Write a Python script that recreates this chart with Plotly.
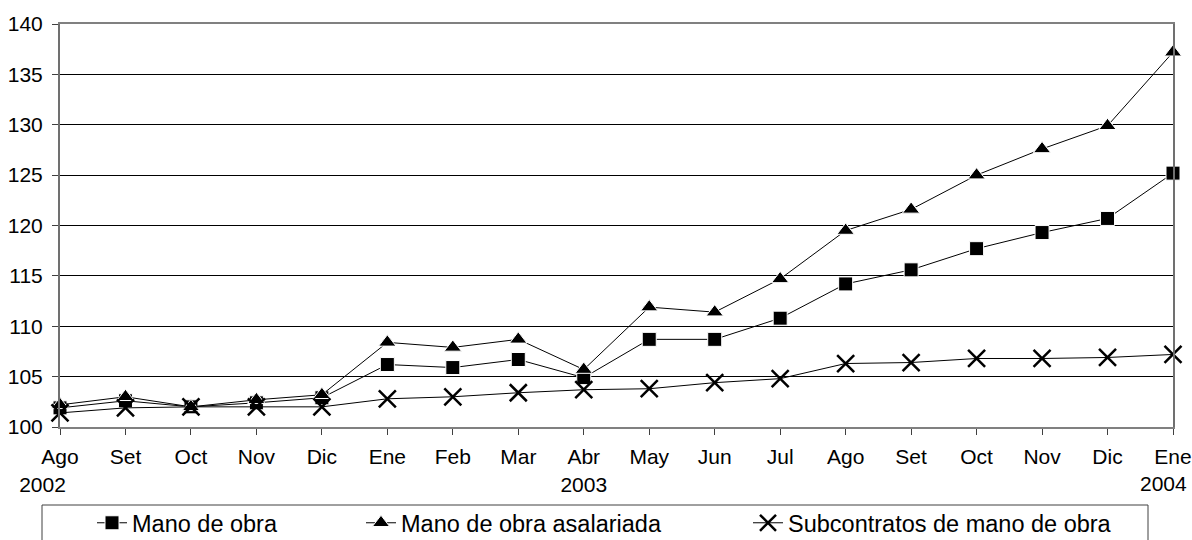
import plotly.graph_objects as go

NB = "\u00a0"
months = ["Ago<br>2002" + NB * 6, "Set", "Oct", "Nov", "Dic", "Ene", "Feb", "Mar", "Abr<br>2003",
          "May", "Jun", "Jul", "Ago", "Set", "Oct", "Nov", "Dic", "Ene"]
last_year = "2004"
mano_obra = [101.9, 102.6, 102.0, 102.4, 102.9, 106.2, 105.9, 106.7, 104.9,
             108.7, 108.7, 110.8, 114.2, 115.6, 117.7, 119.3, 120.7, 125.2]
asalariada = [102.2, 103.0, 102.0, 102.7, 103.2, 108.4, 107.9, 108.7, 105.7,
              111.9, 111.4, 114.7, 119.5, 121.6, 125.0, 127.6, 129.9, 137.2]
subcontratos = [101.4, 101.9, 102.0, 102.0, 102.0, 102.8, 103.0, 103.4, 103.7,
                103.8, 104.4, 104.8, 106.3, 106.4, 106.8, 106.8, 106.9, 107.2]
y_ticks = [100, 105, 110, 115, 120, 125, 130, 135, 140]

x = list(range(len(months)))
FONT = "Liberation Sans, Arial, sans-serif"

fig = go.Figure()
fig.add_trace(go.Scatter(
    x=x, y=mano_obra, name="Mano de obra", mode="lines+markers",
    line=dict(color="black", width=1),
    marker=dict(symbol="square", size=14, color="black", line=dict(color="white", width=1)),
    cliponaxis=False, legend="legend"))
fig.add_trace(go.Scatter(
    x=x, y=asalariada, name="Mano de obra asalariada", mode="lines+markers",
    line=dict(color="black", width=1),
    marker=dict(symbol="triangle-up", size=15, color="black", line=dict(color="white", width=1)),
    cliponaxis=False, legend="legend2"))
fig.add_trace(go.Scatter(
    x=x, y=subcontratos, name="Subcontratos de mano de obra", mode="lines+markers",
    line=dict(color="black", width=1),
    marker=dict(symbol="x-thin", size=17, color="black", line=dict(color="black", width=2.5)),
    cliponaxis=False, legend="legend3"))

W, H = 1192, 540
L, R, T, B = 60, 19, 24, 113
pw, ph = W - L - R, H - T - B

def px_x(p):
    return (p - L) / pw

def px_y(p):
    return (H - B - p) / ph

leg_common = dict(orientation="h", yanchor="middle", xanchor="left",
                  bgcolor="rgba(0,0,0,0)", borderwidth=0,
                  font=dict(family=FONT, size=23.5, color="black"))

fig.update_layout(
    width=W, height=H,
    margin=dict(l=L, r=R, t=T, b=B, autoexpand=False),
    paper_bgcolor="white", plot_bgcolor="white",
    font=dict(family=FONT, size=21, color="black"),
    showlegend=True,
    legend=dict(x=px_x(92), y=px_y(523), **leg_common),
    legend2=dict(x=px_x(361), y=px_y(523), **leg_common),
    legend3=dict(x=px_x(748), y=px_y(523), **leg_common),
    xaxis=dict(
        range=[0, len(months) - 1], tickmode="array", tickvals=x, ticktext=months,
        showgrid=False, zeroline=False, automargin=False,
        showline=True, linecolor="#808080", linewidth=2, mirror=True,
        ticks="outside", ticklen=6, tickcolor="#404040",
        ticklabeloverflow="allow", ticklabelstandoff=4,
        tickfont=dict(family=FONT, size=21, color="black")),
    yaxis=dict(
        range=[100, 140], tickmode="array", tickvals=y_ticks,
        showgrid=True, gridcolor="black", gridwidth=1, zeroline=False, automargin=False,
        showline=True, linecolor="#707070", linewidth=2, mirror=True,
        ticks="outside", ticklen=6, tickcolor="#404040",
        ticklabeloverflow="allow", ticklabelstandoff=5,
        tickfont=dict(family=FONT, size=21, color="black")),
    annotations=[dict(text=last_year, x=x[-1], xref="x", y=0, yref="paper",
                      xanchor="right", yanchor="middle", xshift=16, yshift=-56,
                      showarrow=False, font=dict(family=FONT, size=21, color="black"))],
    shapes=[dict(type="rect", xref="paper", yref="paper",
                 x0=px_x(42), x1=px_x(1148), y0=px_y(505), y1=px_y(560),
                 line=dict(color="#404040", width=1), fillcolor="rgba(0,0,0,0)")],
)

fig.write_html(
    "out.html",
    config={"displayModeBar": False},
    post_script="document.body.style.margin='0';document.body.style.overflow='hidden';",
)
